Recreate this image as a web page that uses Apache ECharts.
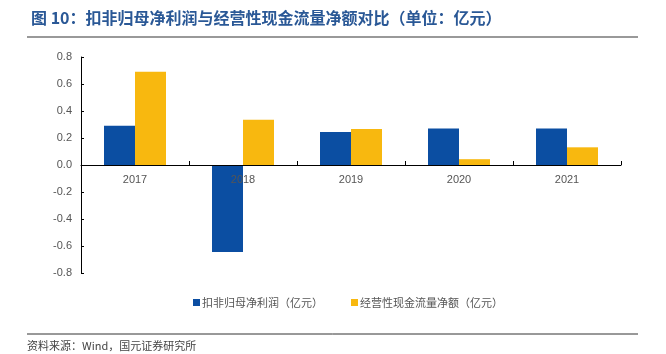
<!DOCTYPE html>
<html>
<head>
<meta charset="utf-8">
<script src="https://cdn.jsdelivr.net/npm/echarts@6/dist/echarts.min.js"></script>
<style>html,body{margin:0;padding:0;background:#fff;}#c{width:666px;height:354px;}</style>
</head>
<body>
<div id="c"></div>
<script>
var categories = ['2017', '2018', '2019', '2020', '2021'];
var netProfit = [0.29, -0.645, 0.245, 0.27, 0.27];
var cashFlow = [0.69, 0.335, 0.267, 0.043, 0.131];
var seriesNames = ['扣非归母净利润（亿元）', '经营性现金流量净额（亿元）'];
var titleText = '图 10：扣非归母净利润与经营性现金流量净额对比（单位：亿元）';
var sourceText = '资料来源：Wind，国元证券研究所';

var chart = echarts.init(document.getElementById('c'));
var cjk = '"Noto Sans CJK SC", "Liberation Sans", sans-serif';
chart.setOption({
  animation: false,
  backgroundColor: '#fff',
  title: {
    text: titleText, left: 26, top: 5,
    textStyle: { fontSize: 16, fontWeight: 'bold', color: '#2A5896', fontFamily: cjk }
  },
  graphic: [
    { type: 'line', shape: { x1: 27, y1: 37, x2: 638, y2: 37 }, style: { stroke: '#777', lineWidth: 1.5 } },
    { type: 'line', shape: { x1: 27, y1: 334, x2: 638, y2: 334 }, style: { stroke: '#333', lineWidth: 1 } },
    { type: 'text', left: 27, top: 340, style: { text: sourceText, fontSize: 11, fill: '#444', fontFamily: cjk } }
  ],
  legend: {
    data: seriesNames, left: 188, top: 292, itemWidth: 7, itemHeight: 7, itemGap: 28,
    icon: 'rect',
    textStyle: { fontSize: 11, color: '#555', fontFamily: cjk, padding: [0, 0, 0, -3] }
  },
  grid: { left: 81, right: 45, top: 57, bottom: 81 },
  xAxis: {
    type: 'category', data: categories, position: 'bottom', offset: -108, z: 5,
    axisLine: { onZero: false, lineStyle: { color: '#000', width: 1 } },
    axisTick: { show: true, inside: true, length: 4, lineStyle: { color: '#000' } },
    axisLabel: { color: '#555', fontSize: 11, margin: 9, fontFamily: '"Liberation Sans", Arial, sans-serif' }
  },
  yAxis: {
    type: 'value', min: -0.8, max: 0.8, interval: 0.2,
    axisLine: { show: true, lineStyle: { color: '#000', width: 1 } },
    axisTick: { show: true, inside: true, length: 3, lineStyle: { color: '#000' } },
    splitLine: { show: false },
    axisLabel: { color: '#555', fontSize: 11, margin: 9, fontFamily: '"Liberation Sans", Arial, sans-serif',
      formatter: function (v) { return v.toFixed(1); } }
  },
  series: [
    { name: seriesNames[0], type: 'bar', data: netProfit, barWidth: 31, barGap: '0%', itemStyle: { color: '#0B4EA2' } },
    { name: seriesNames[1], type: 'bar', data: cashFlow, barWidth: 31, barGap: '0%', itemStyle: { color: '#F8B80F' } }
  ]
});
</script>
</body>
</html>
